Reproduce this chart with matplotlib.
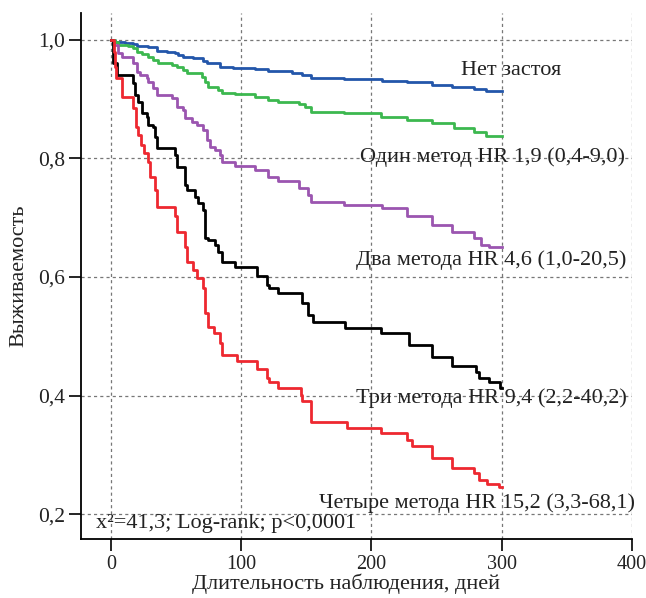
import numpy as np
import matplotlib.pyplot as plt

plt.rcParams['font.family'] = ['Liberation Serif', 'DejaVu Serif']

# Kaplan-Meier steps: days, survival
t_none = [0, 3.1, 10.7, 16.9, 19.9, 28.4, 35.2, 42.9, 49.0, 51.3, 55.2, 62.8, 70.5, 73.6, 83.5, 93.5,
          110.3, 120.3, 138.7, 147.1, 154.0, 179.3, 208.4, 227.6, 246.7, 262.1, 278.9, 288.1, 300]
s_none = [1.0, 0.997, 0.995, 0.993, 0.990, 0.988, 0.981, 0.980, 0.978, 0.975, 0.971, 0.970, 0.965, 0.961, 0.954, 0.953,
          0.951, 0.948, 0.944, 0.941, 0.936, 0.934, 0.931, 0.929, 0.924, 0.921, 0.917, 0.914, 0.914]

t_one = [0, 3.1, 5.4, 13.0, 16.9, 19.9, 23.8, 28.4, 32.2, 36.0, 46.7, 50.6, 55.2, 58.2, 69.7, 72.0, 74.3, 82.0,
         85.1, 95.0, 110.3, 120.3, 128.0, 144.8, 148.7, 154.0, 179.3, 207.7, 227.6, 246.7, 263.6, 278.9, 288.1, 300]
s_one = [1.0, 0.997, 0.992, 0.990, 0.987, 0.980, 0.976, 0.971, 0.966, 0.961, 0.958, 0.954, 0.949, 0.944, 0.938, 0.929, 0.921, 0.916,
         0.911, 0.909, 0.904, 0.899, 0.895, 0.892, 0.887, 0.879, 0.877, 0.870, 0.865, 0.860, 0.852, 0.845, 0.838, 0.838]

t_two = [0, 1.5, 5.4, 8.4, 16.9, 19.9, 22.2, 27.6, 28.4, 32.2, 35.2, 46.7, 50.6, 55.2, 56.7, 62.1, 65.9, 70.5,
         73.6, 75.9, 79.7, 83.5, 85.1, 95.0, 110.3, 120.3, 128.0, 144.8, 151.0, 154.0, 179.3, 208.4, 227.6,
         246.7, 262.1, 278.9, 284.3, 290.4, 300]
s_two = [1.0, 0.992, 0.978, 0.971, 0.961, 0.946, 0.941, 0.936, 0.929, 0.919, 0.907, 0.902, 0.887, 0.882, 0.868, 0.862, 0.857, 0.848,
         0.831, 0.820, 0.815, 0.806, 0.794, 0.788, 0.781, 0.769, 0.762, 0.750, 0.739, 0.727, 0.722, 0.717, 0.702,
         0.688, 0.676, 0.666, 0.654, 0.651, 0.651]

t_three = [0, 1.5, 4.6, 16.9, 18.4, 20.7, 23.8, 27.6, 28.4, 32.2, 33.7, 35.2, 49.0, 50.6, 56.7, 58.2, 64.4, 66.7,
           70.5, 72.0, 74.3, 79.7, 82.0, 85.1, 95.0, 111.9, 119.5, 121.1, 128.0, 146.4, 151.7, 154.8, 180.1,
           207.7, 229.1, 246.7, 262.1, 280.5, 282.8, 290.4, 298.9, 300]
s_three = [1.0, 0.961, 0.941, 0.927, 0.907, 0.895, 0.877, 0.870, 0.857, 0.853, 0.836, 0.818, 0.806, 0.786, 0.755, 0.747, 0.735, 0.725,
           0.713, 0.666, 0.663, 0.654, 0.642, 0.626, 0.616, 0.602, 0.587, 0.582, 0.573, 0.556, 0.536, 0.524, 0.514,
           0.506, 0.486, 0.465, 0.450, 0.440, 0.430, 0.423, 0.413, 0.413]

t_four = [0, 2.3, 3.1, 3.8, 8.4, 16.9, 19.2, 20.7, 23.0, 25.3, 28.4, 29.9, 33.7, 35.2, 49.0, 50.6, 56.7, 58.2,
          62.8, 65.9, 70.5, 72.0, 74.3, 78.9, 83.5, 85.1, 96.6, 111.9, 119.5, 121.1, 128.0, 145.6, 147.1, 154.0,
          180.9, 207.7, 227.6, 231.4, 246.7, 262.1, 278.9, 282.8, 288.9, 298.0, 300]
s_four = [1.0, 0.980, 0.954, 0.936, 0.904, 0.885, 0.853, 0.840, 0.823, 0.809, 0.794, 0.769, 0.747, 0.718, 0.703, 0.676, 0.651, 0.626,
          0.612, 0.599, 0.582, 0.540, 0.516, 0.506, 0.489, 0.469, 0.459, 0.444, 0.430, 0.422, 0.412, 0.401, 0.390, 0.356,
          0.346, 0.337, 0.325, 0.314, 0.295, 0.278, 0.270, 0.258, 0.250, 0.246, 0.246]

labels = ['Нет застоя', 'Один метод HR 1,9 (0,4-9,0)', 'Два метода HR 4,6 (1,0-20,5)',
          'Три метода HR 9,4 (2,2-40,2)', 'Четыре метода HR 15,2 (3,3-68,1)']
label_pos = [(269, 0.949), (191, 0.802), (188.5, 0.629), (188.5, 0.396), (160, 0.219)]
colors = ['#2356aa', '#3cb84f', '#9b55b0', 'black', '#ee2830']

xticks = [0, 100, 200, 300, 400]
yticks = [0.2, 0.4, 0.6, 0.8, 1.0]
ytick_labels = ['0,2', '0,4', '0,6', '0,8', '1,0']

fs = 16
fig = plt.figure(figsize=(6.46, 5.98), dpi=100)
ax = fig.add_axes([0.1254, 0.0987, 0.8526, 0.8793])

curves = [(t_none, s_none), (t_one, s_one), (t_two, s_two), (t_three, s_three), (t_four, s_four)]
for (t, s), c in zip(curves, colors):
    ax.step(t, s, where='post', color=c, lw=2.0)

for lab, (x, y) in zip(labels, label_pos):
    ax.text(x, y, lab, fontsize=fs, va='center', ha='left', color='#222222')

ax.text(-11.5, 0.184, 'x²=41,3; Log-rank; p<0,0001', fontsize=fs, va='center', ha='left', color='#222222')

ax.set_xlim(-23, 400)
ax.set_ylim(0.158, 1.045)
ax.set_xticks(xticks)
ax.set_xticklabels([str(v) for v in xticks], fontsize=14.5, color='#222222')
ax.set_yticks(yticks)
ax.set_yticklabels(ytick_labels, fontsize=15.5, color='#222222')
ax.tick_params(length=8.5, width=1.2, direction='out', pad=3)

ax.grid(True, color='#777777', ls=(0, (2.5, 2.5)), lw=0.9)
ax.spines['top'].set_visible(False)
ax.spines['right'].set_visible(False)
ax.spines['left'].set_linewidth(1.3)
ax.spines['bottom'].set_linewidth(1.3)

ax.set_xlabel('Длительность наблюдения, дней', fontsize=fs, color='#222222')
ax.set_ylabel('Выживаемость', fontsize=fs, color='#222222')
ax.xaxis.set_label_coords(0.482, -0.066)
ax.yaxis.set_label_coords(-0.095, 0.5)

fig.savefig('out.png', dpi=100)
